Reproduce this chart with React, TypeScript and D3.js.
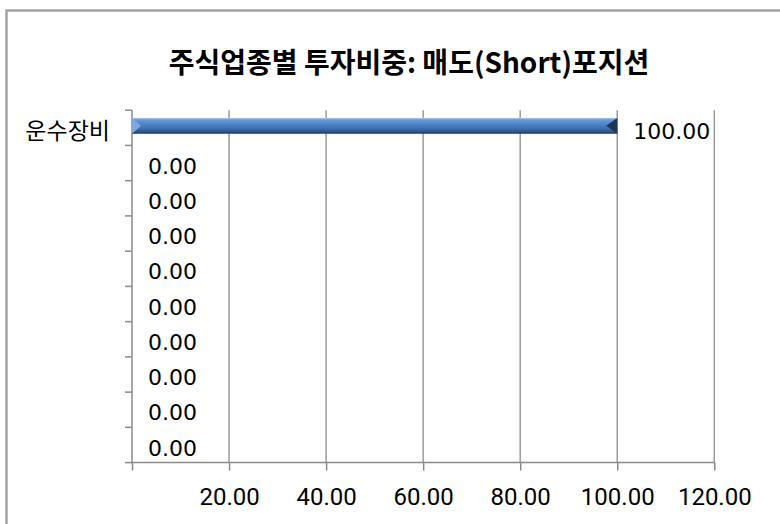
import React, { useEffect, useRef } from "react";
import * as d3 from "d3";

const categories = ["운수장비", "", "", "", "", "", "", "", "", ""];
const weights = [100, 0, 0, 0, 0, 0, 0, 0, 0, 0];
const xTicks = [0, 20, 40, 60, 80, 100, 120];
const title = "주식업종별 투자비중: 매도(Short)포지션";

const App = () => {
  const svgRef = useRef<SVGSVGElement>(null);

  useEffect(() => {
    const width = 780, height = 524;
    const left = 132, right = 714.3, top = 110.2, bottom = 462.6;

    const svg = d3.select(svgRef.current)
      .attr("width", width)
      .attr("height", height)
      .style("background", "#fff");
    svg.selectAll("*").remove();

    // chart frame (runs off the right and bottom edges)
    svg.append("rect")
      .attr("x", 6.5).attr("y", 10.5)
      .attr("width", 800).attr("height", 560)
      .attr("fill", "none")
      .attr("stroke", "#a3a3a3")
      .attr("stroke-width", 2.5);

    svg.append("text")
      .attr("x", 409)
      .attr("y", 73)
      .attr("text-anchor", "middle")
      .attr("font-family", "'Noto Sans CJK KR', 'Noto Sans', sans-serif")
      .attr("font-weight", "bold")
      .attr("font-size", "28px")
      .attr("fill", "#000")
      .text(title);

    const x = d3.scaleLinear().domain([0, 120]).range([left, right]);
    const y = d3.scaleBand<number>()
      .domain(d3.range(categories.length))
      .range([top, bottom])
      .paddingInner(0.55)
      .paddingOuter(0.275);
    const step = y.step();

    // vertical gridlines
    svg.append("g")
      .selectAll("line")
      .data(xTicks.filter(d => d > 0))
      .enter().append("line")
      .attr("x1", d => x(d)).attr("x2", d => x(d))
      .attr("y1", top).attr("y2", bottom)
      .attr("stroke", "#9c9c9c")
      .attr("stroke-width", 1.5);

    // bottom axis
    const xAxis = svg.append("g")
      .attr("transform", `translate(0, ${bottom})`)
      .call(d3.axisBottom(x).tickValues(xTicks).tickSize(8)
        .tickFormat(d => (+d === 0 ? "" : d3.format(".2f")(+d))));
    xAxis.select(".domain").attr("stroke", "#8a8a8a").attr("stroke-width", 1.5)
      .attr("d", `M${left},0H${right}`);
    xAxis.selectAll(".tick line").attr("stroke", "#8a8a8a").attr("stroke-width", 1.5);
    xAxis.selectAll(".tick text")
      .attr("y", 34)
      .attr("dy", "0.35em")
      .attr("font-family", "Roboto, sans-serif")
      .attr("font-size", "24px")
      .attr("fill", "#000");

    // left axis with ticks at category boundaries
    const yAxis = svg.append("g").attr("transform", `translate(${left}, 0)`);
    yAxis.append("line")
      .attr("x1", 0).attr("x2", 0)
      .attr("y1", top).attr("y2", bottom)
      .attr("stroke", "#8a8a8a").attr("stroke-width", 1.5);
    yAxis.selectAll("line.tick")
      .data(d3.range(categories.length + 1))
      .enter().append("line")
      .attr("class", "tick")
      .attr("x1", -7).attr("x2", 0)
      .attr("y1", i => top + i * step).attr("y2", i => top + i * step)
      .attr("stroke", "#8a8a8a").attr("stroke-width", 1.5);
    yAxis.selectAll("text")
      .data(categories)
      .enter().append("text")
      .attr("x", -22)
      .attr("y", (_, i) => (y(i) as number) + y.bandwidth() / 2 + 3)
      .attr("dy", "0.35em")
      .attr("text-anchor", "end")
      .attr("font-family", "'Noto Sans CJK KR', sans-serif")
      .attr("font-size", "23px")
      .attr("fill", "#000")
      .text(d => d);

    // bevelled bar fill
    const defs = svg.append("defs");
    const grad = defs.append("linearGradient")
      .attr("id", "barGrad").attr("x1", 0).attr("x2", 0).attr("y1", 0).attr("y2", 1);
    [
      ["0%", "#b3cdef"],
      ["12%", "#6a9ad8"],
      ["40%", "#4f83c6"],
      ["70%", "#3f6ca8"],
      ["88%", "#2e5284"],
      ["100%", "#1c3556"],
    ].forEach(([o, c]) => grad.append("stop").attr("offset", o).attr("stop-color", c));

    const bars = svg.append("g").attr("transform", "translate(0, -2)");
    bars.selectAll("rect")
      .data(weights)
      .enter().append("rect")
      .attr("x", x(0))
      .attr("y", (_, i) => y(i) as number)
      .attr("width", d => x(d) - x(0))
      .attr("height", y.bandwidth())
      .attr("fill", "url(#barGrad)");

    // bevel facets at the bar ends
    const filled = weights.map((v, i) => ({ v, i })).filter(d => d.v > 0);
    bars.selectAll("path.end")
      .data(filled)
      .enter().append("path")
      .attr("class", "end")
      .attr("d", d => {
        const xe = x(d.v), y0 = y(d.i) as number, h = y.bandwidth();
        return `M${xe},${y0}L${xe - 11},${y0 + h / 2}L${xe},${y0 + h}Z`;
      })
      .attr("fill", "#1d3656");
    bars.selectAll("path.start")
      .data(filled)
      .enter().append("path")
      .attr("class", "start")
      .attr("d", d => {
        const xs = x(0), y0 = y(d.i) as number, h = y.bandwidth();
        return `M${xs},${y0}L${xs + 9},${y0 + h / 2}L${xs},${y0 + h}Z`;
      })
      .attr("fill", "#7fa8df");

    // data labels
    svg.append("g")
      .selectAll("text")
      .data(weights)
      .enter().append("text")
      .attr("x", d => x(d) + 16)
      .attr("y", (_, i) => (y(i) as number) + y.bandwidth() / 2 + 3)
      .attr("dy", "0.35em")
      .attr("font-family", "'DejaVu Sans', sans-serif")
      .attr("font-size", "22px")
      .attr("fill", "#000")
      .text(d => d3.format(".2f")(d));
  }, []);

  return (
    <svg ref={svgRef} style={{ position: "absolute", left: 0, top: 0, display: "block" }}></svg>
  );
};

export default App;
